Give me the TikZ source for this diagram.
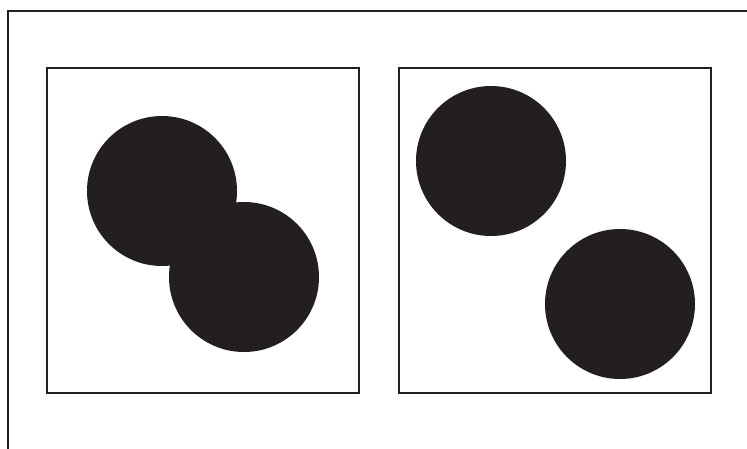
\documentclass[tikz,border=0pt]{standalone}
\usepackage{xcolor}
\usepackage{tikz}
\usetikzlibrary{positioning}
\definecolor{ink}{HTML}{231F20}

\begin{document}
\begin{tikzpicture}[
x=1pt,y=-1pt,
frame/.style={draw=ink,line width=2.4pt},
panel/.style={draw=ink,line width=2.4pt,minimum width=312pt,minimum height=325pt,inner sep=0pt},
disc/.style={circle,fill=ink,minimum size=150pt,inner sep=0pt}
]
\useasboundingbox (0,0) rectangle (747,448);
\draw[frame] (8,460) -- (8,11) -- (760,11);
\node[panel] (left) at (203,230.5) {};
\node[panel] (right) at (555,230.5) {};
\node[disc] (la) at (162,191) {};
\node[disc] (lb) at (244,277) {};
\node[disc] (ra) at (491,161) {};
\node[disc] (rb) at (620,304) {};
\end{tikzpicture}
\end{document}
